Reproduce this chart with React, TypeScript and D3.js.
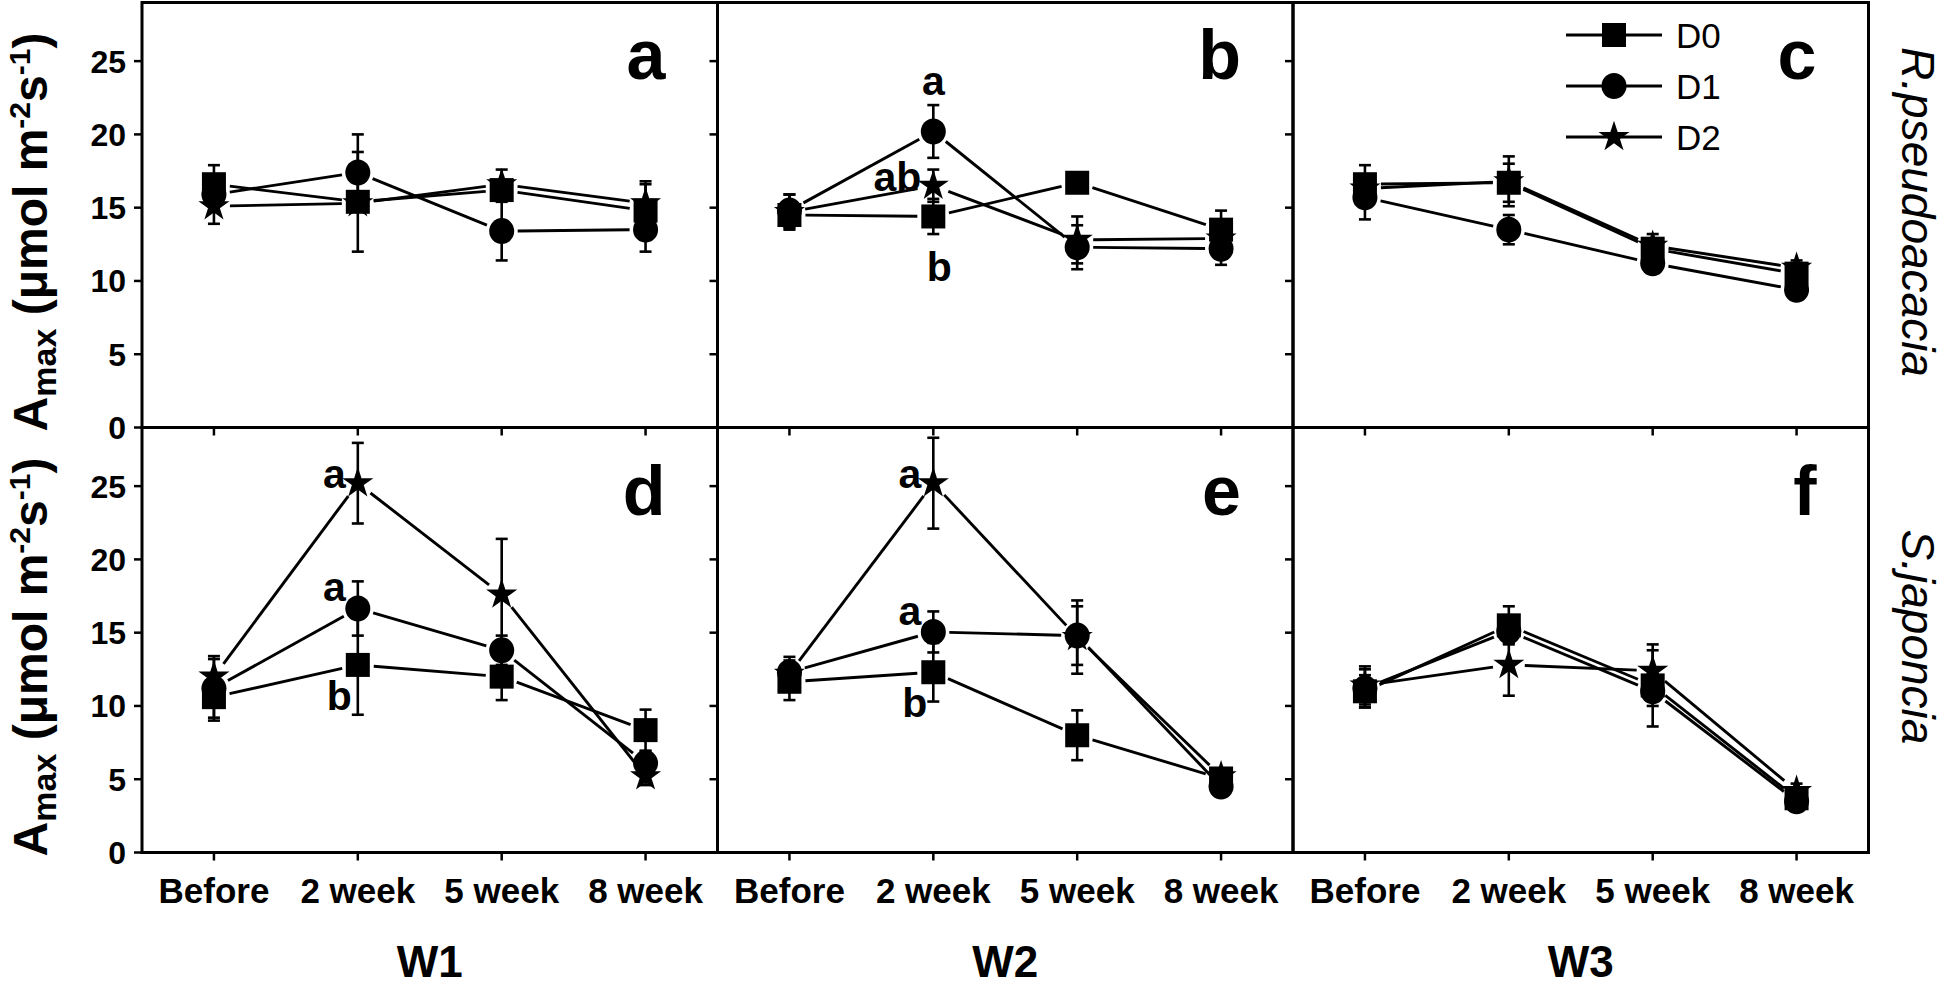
import React, { useEffect } from "react";
import * as d3 from "d3";

const categories = ["Before", "2 week", "5 week", "8 week"];
const panelLetters = ["a", "b", "c", "d", "e", "f"];
const columnLabels = ["W1", "W2", "W3"];
const rowLabels = ["R.pseudoacacia", "S.japoncia"];
const seriesNames = ["D0", "D1", "D2"];
const yTicks = [0, 5, 10, 15, 20, 25];
const yMax = 29;

// means, one row per panel (a..f), one column per category
const meanD0 = [
  [16.6, 15.4, 16.2, 14.8],
  [14.5, 14.4, 16.7, 13.5],
  [16.6, 16.7, 12.2, 10.5],
  [10.6, 12.8, 12.0, 8.35],
  [11.65, 12.3, 8.0, 5.05],
  [11.0, 15.5, 11.4, 3.7],
];
const meanD1 = [
  [15.9, 17.4, 13.4, 13.5],
  [14.8, 20.2, 12.3, 12.2],
  [15.7, 13.5, 11.2, 9.4],
  [11.2, 16.65, 13.8, 6.1],
  [12.3, 15.05, 14.8, 4.5],
  [11.2, 15.1, 11.0, 3.5],
];
const meanD2 = [
  [15.1, 15.3, 16.6, 15.3],
  [14.7, 16.5, 12.8, 12.9],
  [16.3, 16.8, 12.4, 10.9],
  [12.0, 25.2, 17.6, 5.2],
  [12.2, 25.2, 14.7, 5.2],
  [11.4, 12.8, 12.4, 4.2],
];
// standard errors
const seD0 = [
  [1.3, 3.4, 0.6, 2.0],
  [0.9, 1.2, 0.3, 1.3],
  [1.3, 1.3, 0.4, 0.4],
  [1.4, 3.4, 1.6, 1.4],
  [1.25, 2.0, 1.7, 0.4],
  [1.1, 1.3, 2.8, 0.4],
];
const seD1 = [
  [0.8, 2.6, 2.0, 1.5],
  [1.1, 1.8, 1.5, 1.1],
  [1.5, 1.0, 0.5, 0.4],
  [2.2, 1.85, 1.0, 0.8],
  [1.05, 1.4, 2.0, 0.5],
  [1.3, 0.8, 1.0, 0.3],
];
const seD2 = [
  [1.2, 0.5, 1.0, 1.3],
  [1.2, 1.1, 1.6, 0.8],
  [0.8, 1.7, 0.8, 0.5],
  [1.2, 2.75, 3.8, 0.6],
  [0.9, 3.1, 2.5, 0.5],
  [1.3, 2.1, 1.4, 0.5],
];

// significance letters: panel index, category index, series index, text, placement
const sigLetters = [
  { panel: 1, cat: 1, series: 1, text: "a", place: "above" },
  { panel: 1, cat: 1, series: 2, text: "ab", place: "left" },
  { panel: 1, cat: 1, series: 0, text: "b", place: "below" },
  { panel: 3, cat: 1, series: 2, text: "a", place: "left" },
  { panel: 3, cat: 1, series: 1, text: "a", place: "upleft" },
  { panel: 3, cat: 1, series: 0, text: "b", place: "downleft" },
  { panel: 4, cat: 1, series: 2, text: "a", place: "left" },
  { panel: 4, cat: 1, series: 1, text: "a", place: "upleft" },
  { panel: 4, cat: 1, series: 0, text: "b", place: "downleft" },
];

const means = [meanD0, meanD1, meanD2];
const ses = [seD0, seD1, seD2];

const W = 1946;
const H = 990;
const FONT = "'Liberation Sans', Arial, Helvetica, sans-serif";
const plotLeft = 142;
const plotRight = 1868.5;
const rowTops = [2.5, 427.5];
const panelH = 425;
const panelW = (plotRight - plotLeft) / 3;
const GAP = 16;

const starPath = d3.symbol().type(d3.symbolStar).size(300)() as string;

function Marker({ kind, x, y }: { kind: number; x: number; y: number }) {
  if (kind === 0) return <rect x={x - 12} y={y - 12} width={24} height={24} fill="#000" />;
  if (kind === 1) return <ellipse cx={x} cy={y} rx={12.5} ry={13} fill="#000" />;
  return <path d={starPath} transform={`translate(${x},${y})`} fill="#000" />;
}

const placeCfg: Record<string, { dx: number; dy: number; anchor: string }> = {
  above: { dx: 0, dy: -36, anchor: "middle" },
  below: { dx: 6, dy: 65, anchor: "middle" },
  left: { dx: -12, dy: 5, anchor: "end" },
  upleft: { dx: -12, dy: -7, anchor: "end" },
  downleft: { dx: -6, dy: 45, anchor: "end" },
};

function Panel({ idx }: { idx: number }) {
  const col = idx % 3;
  const row = Math.floor(idx / 3);
  const x0 = plotLeft + col * panelW;
  const y0 = rowTops[row];
  const y1 = y0 + panelH;
  const x = d3.scalePoint<string>().domain(categories).range([x0, x0 + panelW]).padding(0.5);
  const y = d3.scaleLinear().domain([0, yMax]).range([y1, y0]);

  const segs: JSX.Element[] = [];
  const bars: JSX.Element[] = [];
  const marks: JSX.Element[] = [];
  means.forEach((m, s) => {
    const vals = m[idx];
    const errs = ses[s][idx];
    const pts = vals.map((v, j) => [x(categories[j]) as number, y(v)]);
    for (let j = 0; j < pts.length - 1; j++) {
      const [ax, ay] = pts[j];
      const [bx, by] = pts[j + 1];
      const len = Math.hypot(bx - ax, by - ay);
      if (len <= 2 * GAP) continue;
      const ux = (bx - ax) / len;
      const uy = (by - ay) / len;
      segs.push(
        <line key={`l${s}-${j}`} x1={ax + ux * GAP} y1={ay + uy * GAP} x2={bx - ux * GAP} y2={by - uy * GAP}
          stroke="#000" strokeWidth={2.9} />
      );
    }
    vals.forEach((v, j) => {
      const cx = x(categories[j]) as number;
      const yt = y(v + errs[j]);
      const yb = y(v - errs[j]);
      bars.push(
        <g key={`e${s}-${j}`} stroke="#000" strokeWidth={2.6}>
          <line x1={cx} x2={cx} y1={yt} y2={yb} />
          <line x1={cx - 6} x2={cx + 6} y1={yt} y2={yt} />
          <line x1={cx - 6} x2={cx + 6} y1={yb} y2={yb} />
        </g>
      );
      marks.push(<Marker key={`m${s}-${j}`} kind={s} x={cx} y={y(v)} />);
    });
  });

  return (
    <g>
      <rect x={x0} y={y0} width={panelW} height={panelH} fill="none" stroke="#000" strokeWidth={3} />
      {yTicks.map((t) => (
        <line key={`yt${t}`} x1={x0 - 8} x2={x0} y1={y(t)} y2={y(t)} stroke="#000" strokeWidth={2.5} />
      ))}
      {col === 0 &&
        yTicks.map((t) => (
          <text key={`yl${t}`} x={x0 - 16} y={y(t)} dy="0.36em" textAnchor="end" fontSize={32}
            fontWeight="bold" fontFamily={FONT}>{t}</text>
        ))}
      {categories.map((c) => (
        <line key={`xt${c}`} x1={x(c)} x2={x(c)} y1={y1} y2={y1 + 8} stroke="#000" strokeWidth={2.5} />
      ))}
      {row === 1 &&
        categories.map((c) => (
          <text key={`xl${c}`} x={x(c)} y={903} textAnchor="middle" fontSize={35} fontWeight="bold"
            fontFamily={FONT}>{c}</text>
        ))}
      {segs}
      {bars}
      {marks}
      <text x={x0 + panelW - 52} y={row === 0 ? 79 : 515} textAnchor="end" fontSize={70}
        fontWeight="bold" fontFamily={FONT}>{panelLetters[idx]}</text>
      {sigLetters.filter((l) => l.panel === idx).map((l, k) => {
        const cfg = placeCfg[l.place];
        const px = (x(categories[l.cat]) as number) + cfg.dx;
        const py = y(means[l.series][idx][l.cat]) + cfg.dy;
        return (
          <text key={`s${k}`} x={px} y={py} textAnchor={cfg.anchor} fontSize={41} fontWeight="bold"
            fontFamily={FONT}>{l.text}</text>
        );
      })}
      {idx === 2 && (
        <g>
          {seriesNames.map((n, s) => {
            const ly = 35 + s * 51;
            const lx = x0 + 321;
            return (
              <g key={n}>
                <line x1={lx - 48} x2={lx + 48} y1={ly} y2={ly} stroke="#000" strokeWidth={2.9} />
                <Marker kind={s} x={lx} y={ly} />
                <text x={lx + 62} y={ly} dy="0.36em" fontSize={35} fontFamily={FONT}>{n}</text>
              </g>
            );
          })}
        </g>
      )}
    </g>
  );
}

function YLabel({ cy }: { cy: number }) {
  return (
    <text transform={`translate(47,${cy}) rotate(-90)`} textAnchor="middle" fontSize={48}
      fontWeight="bold" fontFamily={FONT}>
      <tspan>A</tspan>
      <tspan fontSize={34} dy={9}>max</tspan>
      <tspan dy={-9}> (μmol m</tspan>
      <tspan fontSize={30} dy={-17}>-2</tspan>
      <tspan dy={17}>s</tspan>
      <tspan fontSize={30} dy={-17}>-1</tspan>
      <tspan dy={17}>)</tspan>
    </text>
  );
}

export default function App() {
  useEffect(() => {
    document.body.style.margin = "0";
  }, []);
  return (
    <svg width={W} height={H} style={{ position: "fixed", left: 0, top: 0, background: "#fff" }}>
      <rect width={W} height={H} fill="#fff" />
      {panelLetters.map((_, i) => (
        <Panel key={i} idx={i} />
      ))}
      {rowTops.map((t, r) => (
        <YLabel key={r} cy={t + panelH / 2 + 17} />
      ))}
      {rowLabels.map((l, r) => (
        <text key={l} transform={`translate(1902,${rowTops[r] + panelH / 2 - 3}) rotate(90)`}
          textAnchor="middle" fontSize={46} fontStyle="italic" fontFamily={FONT}>{l}</text>
      ))}
      {columnLabels.map((l, c) => (
        <text key={l} x={plotLeft + (c + 0.5) * panelW} y={977} textAnchor="middle" fontSize={44}
          fontWeight="bold" fontFamily={FONT}>{l}</text>
      ))}
    </svg>
  );
}
